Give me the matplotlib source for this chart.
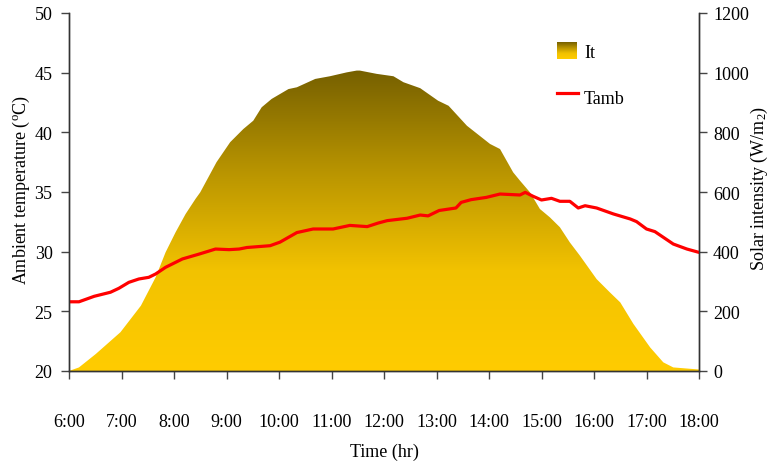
import numpy as np
import matplotlib
matplotlib.use("Agg")
import matplotlib.pyplot as plt
from matplotlib.colors import LinearSegmentedColormap

plt.rcParams['font.family'] = ['Liberation Serif', 'DejaVu Serif']
plt.rcParams['mathtext.fontset'] = 'custom'
plt.rcParams['mathtext.rm'] = 'Liberation Serif'
plt.rcParams['mathtext.it'] = 'Liberation Serif'

# Solar intensity It (W/m^2) over the day, hours in decimal form
it_hours = [6.00, 6.19, 6.51, 6.98, 7.37, 7.65, 7.84, 8.03, 8.22, 8.41, 8.50,
            8.81, 9.07, 9.32, 9.51, 9.67, 9.86, 10.18, 10.34, 10.69, 10.97,
            11.29, 11.48, 11.54, 11.86, 12.18, 12.37, 12.69, 13.03, 13.23,
            13.58, 14.02, 14.21, 14.46, 14.59, 14.78, 14.97, 15.16, 15.35,
            15.54, 15.73, 16.05, 16.30, 16.50, 16.75, 17.07, 17.32, 17.51, 18.00]
it_values = [0, 12, 57, 130, 219, 314, 398, 465, 526, 577, 599,
             700, 767, 811, 839, 884, 912, 945, 951, 979, 988,
             1001, 1007, 1007, 996, 988, 968, 948, 906, 889,
             822, 761, 744, 666, 638, 599, 543, 515, 482,
             431, 387, 308, 264, 230, 158, 79, 29, 12, 5]

# Ambient temperature Tamb (deg C)
tamb_hours = [6.00, 6.19, 6.48, 6.79, 6.95, 7.14, 7.33, 7.52, 7.65, 7.84,
              8.16, 8.48, 8.79, 9.05, 9.24, 9.39, 9.83, 10.02, 10.34, 10.65,
              11.03, 11.35, 11.68, 11.89, 12.06, 12.44, 12.69, 12.84, 13.05,
              13.37, 13.47, 13.66, 13.95, 14.21, 14.59, 14.69, 14.84, 15.00,
              15.19, 15.35, 15.54, 15.70, 15.83, 16.05, 16.37, 16.69, 16.81,
              17.00, 17.16, 17.51, 17.77, 18.00]
tamb_values = [25.8, 25.8, 26.26, 26.6, 26.93, 27.43, 27.71, 27.85, 28.13, 28.69,
               29.39, 29.8, 30.22, 30.17, 30.22, 30.35, 30.5, 30.8, 31.6, 31.9,
               31.9, 32.2, 32.1, 32.4, 32.6, 32.8, 33.07, 33.0, 33.45,
               33.66, 34.13, 34.36, 34.55, 34.83, 34.75, 34.97, 34.64, 34.33,
               34.47, 34.22, 34.22, 33.66, 33.85, 33.66, 33.16, 32.74, 32.52,
               31.9, 31.68, 30.64, 30.22, 29.94]

x_ticks = list(range(6, 19))
x_tick_labels = [f"{h}:00" for h in x_ticks]
temp_ticks = [20, 25, 30, 35, 40, 45, 50]
solar_ticks = [0, 200, 400, 600, 800, 1000, 1200]

W, H = 769, 464
fig = plt.figure(figsize=(W / 100, H / 100), dpi=100)
ax = fig.add_axes([69 / W, 1 - 372 / H, 630 / W, 358 / H])
ax2 = ax.twinx()

# Golden gradient fill under the solar curve
grad_cmap = LinearSegmentedColormap.from_list(
    "gold", ["#ffcc00", "#f2c200", "#b89400", "#766000"])
ymax = max(it_values)
poly = ax2.fill_between(it_hours, 0, it_values, facecolor="none", edgecolor="none")
grad = np.linspace(0, 1, 256).reshape(-1, 1)
img = ax2.imshow(grad, cmap=grad_cmap, origin="lower", aspect="auto",
                 extent=[6, 18, 0, ymax], interpolation="bilinear")
img.set_clip_path(poly.get_paths()[0], transform=ax2.transData)

ax2.set_ylim(0, 1200)
ax2.set_xlim(6, 18)
ax2.set_yticks(solar_ticks)

# Temperature curve on top of the fill
ax.plot(tamb_hours, tamb_values, color="#ff0000", lw=2.3,
        solid_capstyle="round", solid_joinstyle="round")
ax.set_zorder(ax2.get_zorder() + 1)
ax.patch.set_visible(False)
ax.set_xlim(6, 18)
ax.set_ylim(20, 50)
ax.set_yticks(temp_ticks)
ax.set_xticks(x_ticks)
ax.set_xticklabels(x_tick_labels)

for a in (ax, ax2):
    a.spines['top'].set_visible(False)
    for s in a.spines.values():
        s.set_linewidth(1.0)
        s.set_color("#333333")
    a.tick_params(labelsize=13, length=5.8, width=1.0, color="#444444", direction="out")
ax.tick_params(axis='x', pad=24.5)
ax.tick_params(axis='y', pad=6)
ax2.tick_params(axis='y', pad=4.3)

# Axis titles
fig.text(21 / W, 1 - 190 / H, "Ambient temperature ($^{\\mathrm{o}}$C)", fontsize=13,
         rotation=90, ha="center", va="center")
fig.text(759 / W, 1 - 188 / H, "Solar intensity (W/m$_{2}$)", fontsize=13,
         rotation=90, ha="center", va="center")
fig.text(384 / W, 1 - 452 / H, "Time (hr)", fontsize=13, ha="center", va="center")

# Legend
lax = fig.add_axes([557 / W, 1 - 60 / H, 20 / W, 17 / H])
lax.imshow(grad, cmap=grad_cmap, origin="lower", aspect="auto", extent=[0, 1, 0, 1])
lax.axis("off")
fig.text(584 / W, 1 - 54 / H, "It", fontsize=13, va="center", ha="left")
fig.add_artist(plt.Line2D([557 / W, 578 / W], [1 - 94 / H, 1 - 94 / H],
                          color="#ff0000", lw=2.3, transform=fig.transFigure))
fig.text(584 / W, 1 - 100 / H, "Tamb", fontsize=13, va="center", ha="left")

fig.savefig("out.png", dpi=100)
